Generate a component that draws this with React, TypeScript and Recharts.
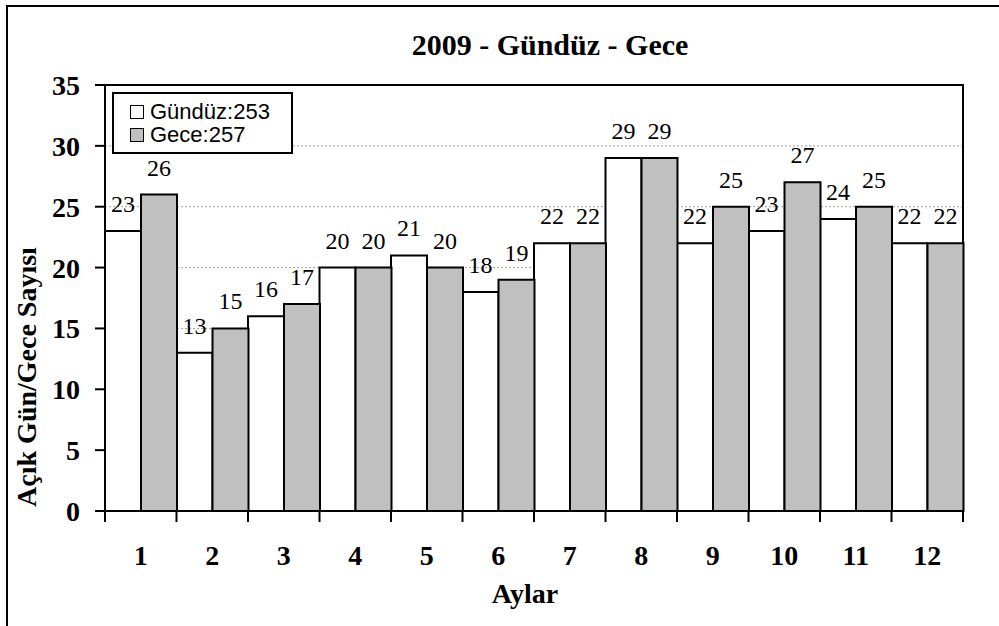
import { Bar, BarChart, CartesianGrid, LabelList, ReferenceArea, XAxis, YAxis } from "recharts";

const months = ["1", "2", "3", "4", "5", "6", "7", "8", "9", "10", "11", "12"];
const gunduz = [23, 13, 16, 20, 21, 18, 22, 29, 22, 23, 24, 22];
const gece = [26, 15, 17, 20, 20, 19, 22, 29, 25, 27, 25, 22];
const yTicks = [0, 5, 10, 15, 20, 25, 30, 35];
const legendItems = [
  { name: "Gündüz:253", fill: "#ffffff" },
  { name: "Gece:257", fill: "#c0c0c0" },
];

const data = months.map((m, i) => ({ month: m, gunduz: gunduz[i], gece: gece[i] }));

const serif = "Liberation Serif";
const sans = "Liberation Sans";

function MonthTick(props: any) {
  const { x, y, payload, index } = props;
  const off = payload?.offset ?? 35.75;
  return (
    <g>
      <line x1={x - off} x2={x - off} y1={y} y2={y + 11} stroke="#000" strokeWidth={2} />
      {index === months.length - 1 && (
        <line x1={x + off} x2={x + off} y1={y} y2={y + 11} stroke="#000" strokeWidth={2} />
      )}
      <text x={x} y={y + 54} textAnchor="middle" style={{ fontFamily: serif, fontWeight: "bold", fontSize: 28 }} fill="#000">
        {payload.value}
      </text>
    </g>
  );
}

// value label above a bar, serif like the original
const barValue = (props: any) => {
  const { x, y, width, value } = props;
  return (
    <text
      x={Number(x) + Number(width) / 2}
      y={Number(y) - 19}
      textAnchor="middle"
      style={{ fontFamily: serif, fontSize: 24, fontWeight: "normal" }}
      fill="#000"
    >
      {value}
    </text>
  );
};

export default function App() {
  return (
    <div style={{ position: "absolute", left: 0, top: 0, width: 999, height: 626, background: "#fff" }}>
      <div
        style={{
          position: "absolute",
          left: 6,
          top: 5,
          width: 1000,
          height: 640,
          borderLeft: "2px solid #000",
          borderTop: "2px solid #000",
        }}
      />
      <BarChart
        width={999}
        height={626}
        data={data}
        margin={{ top: 85, right: 36, bottom: 55, left: 0 }}
        barCategoryGap={0}
        barGap={0}
      >
        <CartesianGrid horizontal vertical={false} stroke="#a0a0a0" strokeDasharray="2 2" />
        <XAxis
          dataKey="month"
          height={60}
          tickLine={false}
          tickSize={0}
          tickMargin={0}
          axisLine={{ stroke: "#000", strokeWidth: 2 }}
          tick={<MonthTick />}
          interval={0}
        />
        <YAxis
          width={105}
          domain={[0, 35]}
          ticks={yTicks}
          interval={0}
          tickSize={10}
          tickMargin={15}
          axisLine={{ stroke: "#000", strokeWidth: 2 }}
          tickLine={{ stroke: "#000", strokeWidth: 2 }}
          tick={{ fontFamily: serif, fontWeight: "bold", fontSize: 28, fill: "#000" }}
        />
        <ReferenceArea y1={0} y2={35} fill="none" stroke="#000" strokeWidth={2} />
        <Bar dataKey="gunduz" name="Gündüz" fill="#ffffff" stroke="#000" strokeWidth={2} isAnimationActive={false}>
          <LabelList dataKey="gunduz" content={barValue} />
        </Bar>
        <Bar dataKey="gece" name="Gece" fill="#c0c0c0" stroke="#000" strokeWidth={2} isAnimationActive={false}>
          <LabelList dataKey="gece" content={barValue} />
        </Bar>
      </BarChart>
      <svg
        width={999}
        height={626}
        style={{ position: "absolute", left: 0, top: 0, pointerEvents: "none" }}
      >
        <text x={550} y={55} textAnchor="middle" fontFamily={serif} fontWeight="bold" fontSize={30} fill="#000">
          2009 - Gündüz - Gece
        </text>
        <text x={525} y={603} textAnchor="middle" fontFamily={serif} fontWeight="bold" fontSize={28} fill="#000">
          Aylar
        </text>
        <text
          transform="translate(36,377) rotate(-90)"
          textAnchor="middle"
          fontFamily={serif}
          fontWeight="bold"
          fontSize={28}
          fill="#000"
        >
          Açık Gün/Gece Sayısı
        </text>
      </svg>
      <div
        style={{
          position: "absolute",
          left: 112,
          top: 92,
          width: 181,
          height: 62,
          border: "2px solid #000",
          background: "#fff",
          fontFamily: sans,
          fontSize: 22,
          lineHeight: "23px",
          paddingTop: 6,
          boxSizing: "border-box",
        }}
      >
        {legendItems.map((it) => (
          <div key={it.name} style={{ display: "flex", alignItems: "center", height: 23, paddingLeft: 16 }}>
            <span
              style={{
                width: 12,
                height: 12,
                border: "1.5px solid #000",
                background: it.fill,
                marginRight: 6,
                display: "inline-block",
              }}
            />
            <span>{it.name}</span>
          </div>
        ))}
      </div>
    </div>
  );
}
